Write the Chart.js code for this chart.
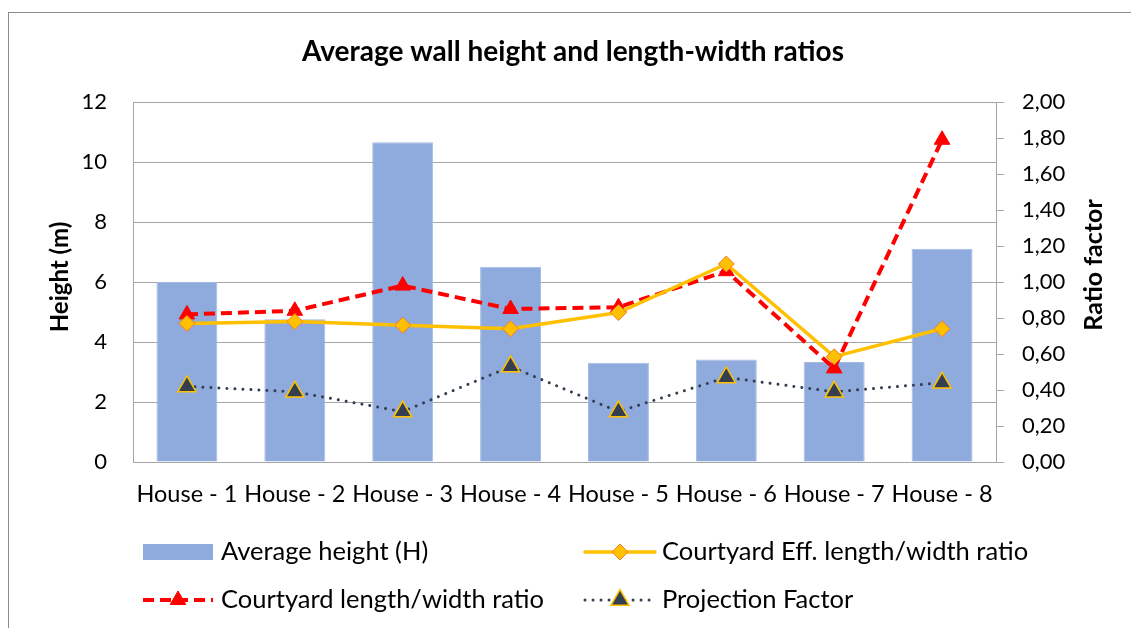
<!DOCTYPE html>
<html>
<head>
<meta charset="utf-8">
<script src="https://cdn.jsdelivr.net/npm/chart.js@4/dist/chart.umd.min.js"></script>
<style>
  html, body { margin: 0; padding: 0; background: #fff; }
  #wrap { position: relative; width: 1131px; height: 628px; }
</style>
</head>
<body>
<div id="wrap"><canvas id="c" width="1131" height="628"></canvas></div>
<script>
const categories = ['House - 1', 'House - 2', 'House - 3', 'House - 4', 'House - 5', 'House - 6', 'House - 7', 'House - 8'];
const averageHeight = [6.0, 4.76, 10.66, 6.51, 3.31, 3.42, 3.33, 7.11];
const effRatio = [0.77, 0.78, 0.76, 0.74, 0.83, 1.10, 0.585, 0.74];
const courtyardRatio = [0.82, 0.84, 0.98, 0.85, 0.86, 1.06, 0.52, 1.79];
const projectionFactor = [0.42, 0.39, 0.28, 0.53, 0.28, 0.47, 0.39, 0.44];
const leftTickLabels = ['0', '2', '4', '6', '8', '10', '12'];
const rightTickLabels = ['0,00', '0,20', '0,40', '0,60', '0,80', '1,00', '1,20', '1,40', '1,60', '1,80', '2,00'];
const titleText = 'Average wall height and length-width ratios';
const leftAxisTitle = 'Height (m)';
const rightAxisTitle = 'Ratio factor';
const seriesNames = ['Average height (H)', 'Courtyard Eff. length/width ratio', 'Courtyard length/width ratio', 'Projection Factor'];

const FONT = 'Lato, "Open Sans", sans-serif';
const GRID = '#a6a6a6';
const BAR = '#8faadc';
const YEL = '#ffc000';
const RED = '#ff0000';
const DARK = '#333f50';

const extras = {
  id: 'extras',
  beforeDraw(chart) {
    const ctx = chart.ctx;
    ctx.save();
    ctx.fillStyle = '#fff';
    ctx.fillRect(0, 0, chart.width, chart.height);
    ctx.strokeStyle = '#8c8c8c';
    ctx.lineWidth = 1;
    ctx.strokeRect(8.5, 12.5, 1400, 900);
    ctx.restore();
  },
  afterDraw(chart) {
    const ctx = chart.ctx;
    ctx.save();
    ctx.fillStyle = '#000';
    // chart title
    ctx.font = 'bold 28px ' + FONT;
    ctx.textAlign = 'center';
    ctx.textBaseline = 'middle';
    ctx.fillText(titleText, 573, 52);
    // axis titles
    ctx.font = 'bold 24px ' + FONT;
    ctx.save(); ctx.translate(60, 277); ctx.rotate(-Math.PI / 2); ctx.fillText(leftAxisTitle, 0, 0); ctx.restore();
    ctx.font = 'bold 25px ' + FONT;
    ctx.save(); ctx.translate(1094, 265); ctx.rotate(-Math.PI / 2); ctx.fillText(rightAxisTitle, 0, 0); ctx.restore();

    // legend
    const ds = chart.data.datasets;
    const drawLine = (x0, x1, y, d) => {
      ctx.save();
      ctx.strokeStyle = d.borderColor;
      ctx.lineWidth = d.borderWidth;
      ctx.setLineDash(d.borderDash || []);
      ctx.lineCap = d.borderCapStyle || 'butt';
      ctx.beginPath(); ctx.moveTo(x0, y); ctx.lineTo(x1, y); ctx.stroke();
      ctx.restore();
      ctx.fillStyle = d.pointBackgroundColor; ctx.strokeStyle = d.pointBorderColor; ctx.lineWidth = d.pointBorderWidth;
      Chart.helpers.drawPoint(ctx, {
        pointStyle: d.pointStyle, radius: d.pointRadius, rotation: 0,
        borderWidth: d.pointBorderWidth
      }, (x0 + x1) / 2, y);
    };
    ctx.fillStyle = BAR;
    ctx.fillRect(143, 544, 70, 16);
    ctx.save(); drawLine(585, 655, 552, ds[1]); ctx.restore();
    ctx.save(); drawLine(143, 213, 600, ds[2]); ctx.restore();
    ctx.save(); drawLine(585, 655, 600, ds[3]); ctx.restore();
    ctx.fillStyle = '#000';
    ctx.font = '25.5px ' + FONT;
    ctx.textAlign = 'left';
    ctx.textBaseline = 'middle';
    ctx.fillText(seriesNames[0], 221, 552);
    ctx.fillText(seriesNames[1], 662, 552);
    ctx.fillText(seriesNames[2], 221, 600);
    ctx.fillText(seriesNames[3], 662, 600);
    ctx.restore();
  }
};

new Chart(document.getElementById('c'), {
  type: 'bar',
  data: {
    labels: categories,
    datasets: [
      {
        type: 'bar', label: seriesNames[0], data: averageHeight, yAxisID: 'y',
        backgroundColor: BAR, borderColor: '#a3bbe3', borderWidth: 1,
        barPercentage: 0.565, categoryPercentage: 1, order: 4
      },
      {
        type: 'line', label: seriesNames[1], data: effRatio, yAxisID: 'y1',
        borderColor: YEL, borderWidth: 3.5, borderCapStyle: 'round', tension: 0,
        pointStyle: 'rectRot', pointRadius: 8, pointHoverRadius: 8,
        pointBackgroundColor: YEL, pointBorderColor: '#ed7d31', pointBorderWidth: 1, order: 2
      },
      {
        type: 'line', label: seriesNames[2], data: courtyardRatio, yAxisID: 'y1',
        borderColor: RED, borderWidth: 4, borderDash: [11, 6], borderCapStyle: 'butt', tension: 0,
        pointStyle: 'triangle', pointRadius: 9, pointHoverRadius: 9,
        pointBackgroundColor: RED, pointBorderColor: RED, pointBorderWidth: 1, order: 3
      },
      {
        type: 'line', label: seriesNames[3], data: projectionFactor, yAxisID: 'y1',
        borderColor: DARK, borderWidth: 3, borderDash: [0.01, 8], borderCapStyle: 'round', tension: 0,
        pointStyle: 'triangle', pointRadius: 10.5, pointHoverRadius: 10.5,
        pointBackgroundColor: DARK, pointBorderColor: YEL, pointBorderWidth: 1.5, order: 1
      }
    ]
  },
  options: {
    responsive: false,
    animation: false,
    events: [],
    layout: { padding: { left: 0, right: 0, top: 102, bottom: 0 } },
    plugins: {
      legend: { display: false },
      tooltip: { enabled: false },
      title: { display: false }
    },
    scales: {
      x: {
        grid: { display: false, drawTicks: false },
        border: { display: true, color: GRID, width: 1 },
        ticks: { color: '#000', font: { family: FONT, size: 23.5 }, padding: 18, maxRotation: 0, autoSkip: false },
        afterFit(s) { s.height = 628 - 462; }
      },
      y: {
        position: 'left', min: 0, max: 12,
        afterBuildTicks(s) { s.ticks = leftTickLabels.map(v => ({ value: Number(v) })); },
        ticks: { color: '#000', font: { family: FONT, size: 22 }, padding: 26,
          callback: (v, i) => leftTickLabels[i] },
        grid: { color: GRID, lineWidth: 1, drawTicks: false },
        border: { display: true, color: GRID, width: 1 },
        afterFit(s) { s.width = 133; }
      },
      y1: {
        position: 'right', min: 0, max: 2,
        afterBuildTicks(s) { s.ticks = rightTickLabels.map(v => ({ value: Number(v.replace(',', '.')) })); },
        ticks: { color: '#000', font: { family: FONT, size: 22 }, padding: 18,
          callback: (v, i) => rightTickLabels[i] },
        grid: { drawOnChartArea: false, drawTicks: true, tickLength: 8, color: GRID, tickColor: GRID },
        border: { display: true, color: GRID, width: 1 },
        afterFit(s) { s.width = 135; }
      }
    }
  },
  plugins: [extras]
});
</script>
</body>
</html>
